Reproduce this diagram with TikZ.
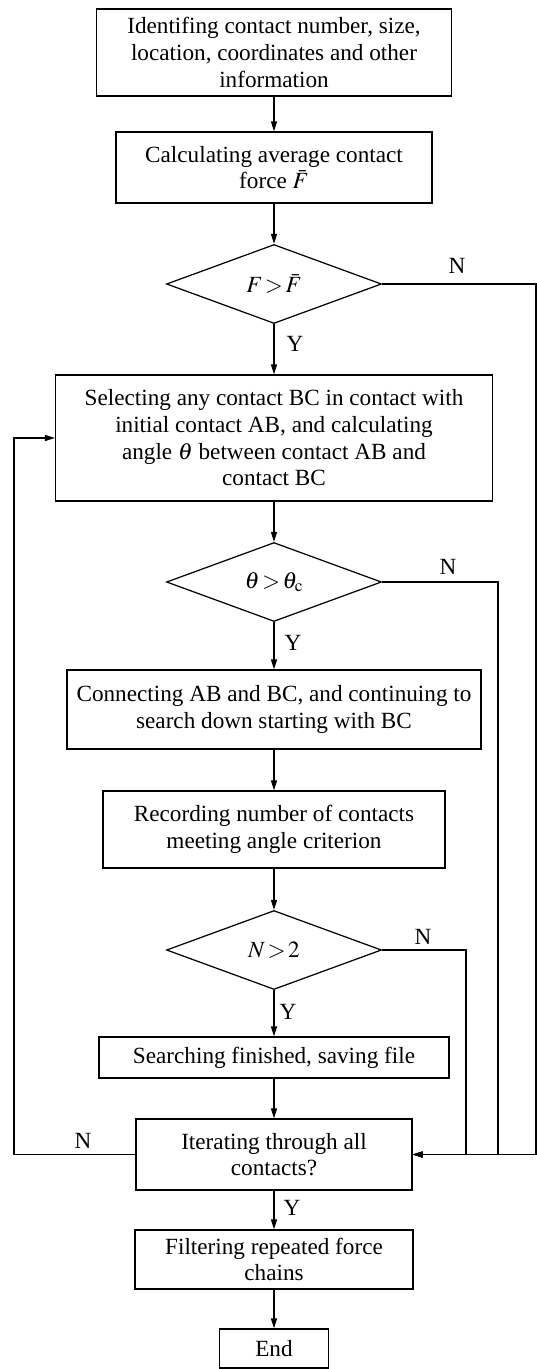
\documentclass[tikz,border=0pt]{standalone}
\usepackage{mathptmx}
\usepackage{fontspec}
\setmainfont{Liberation Serif}
\usetikzlibrary{shapes.geometric,arrows.meta}

\tikzset{
  txt/.style={font=\fontsize{13.2}{15.2}\selectfont},
  box/.style={txt, draw, line width=0.7pt, align=center, inner sep=0pt},
  decision/.style={txt, draw, line width=0.7pt, diamond, aspect=2.7, inner sep=0pt, minimum width=4.3cm, minimum height=1.58cm},
  line/.style={line width=0.7pt},
  arrow/.style={line width=0.7pt, -{Triangle[length=2mm,width=1.2mm]}},
  lab/.style={txt, inner sep=0pt}
}

\begin{document}
\begin{tikzpicture}[x=0.02cm, y=-0.02cm]
    \useasboundingbox (0, 0) rectangle (537, 1369);

    \node[box, minimum width=7.1cm, minimum height=1.74cm] (info) at (274, 52.5) {Identifing contact number, size,\\ location, coordinates and other\\ information};
    \node[box, minimum width=6.32cm, minimum height=1.42cm] (avg) at (274, 167.5) {Calculating average contact\\ force $\bar{F}$};
    \node[decision] (fcheck) at (274, 284) {$F\!>\!\bar{F}$};
    \node[box, minimum width=8.74cm, minimum height=2.52cm] (select) at (274, 438) {Selecting any contact BC in contact with\\ initial contact AB, and calculating\\ angle $\theta$ between contact AB and\\ contact BC};
    \node[decision] (acheck) at (274, 582) {$\theta\!>\!\theta_{\mathrm{c}}$};
    \node[box, minimum width=8.28cm, minimum height=1.58cm] (connect) at (274, 709.5) {Connecting AB and BC, and continuing to\\ search down starting with BC};
    \node[box, minimum width=6.84cm, minimum height=1.54cm] (record) at (274, 829.5) {Recording number of contacts\\ meeting angle criterion};
    \node[decision] (ncheck) at (274, 950) {$N\!>\!2$};
    \node[box, minimum width=7cm, minimum height=0.82cm] (save) at (274, 1057.5) {Searching finished, saving file};
    \node[box, minimum width=5.52cm, minimum height=1.42cm] (iter) at (274, 1154.5) {Iterating through all\\ contacts?};
    \node[box, minimum width=5.56cm, minimum height=1.18cm] (filter) at (274, 1259.5) {Filtering repeated force\\ chains};
    \node[box, minimum width=2.18cm, minimum height=0.78cm] (end) at (274, 1348.5) {End};

    % main column
    \draw[arrow] (info) -- (avg);
    \draw[arrow] (avg) -- (fcheck);
    \draw[arrow] (fcheck) -- (select);
    \draw[arrow] (select) -- (acheck);
    \draw[arrow] (acheck) -- (connect);
    \draw[arrow] (connect) -- (record);
    \draw[arrow] (record) -- (ncheck);
    \draw[arrow] (ncheck) -- (save);
    \draw[arrow] (save) -- (iter);
    \draw[arrow] (iter) -- (filter);
    \draw[arrow] (filter) -- (end);

    % N branches on the right
    \coordinate (fright) at (536, 284);
    \coordinate (aright) at (498, 582);
    \coordinate (nright) at (466, 950);
    \draw[arrow] (fcheck.east) -- (fright) |- (iter.east);
    \draw[arrow] (acheck.east) -- (aright) |- (iter.east);
    \draw[arrow] (ncheck.east) -- (nright) |- (iter.east);

    % loop back on the left
    \coordinate (back) at (14, 438);
    \draw[arrow] (iter.west) -| (back) -- (select.west);

    \node[lab] (fno) at (457, 266) {N};
    \node[lab] (fyes) at (295, 344) {Y};
    \node[lab] (ano) at (448, 567) {N};
    \node[lab] (ayes) at (293, 643) {Y};
    \node[lab] (nno) at (423, 937) {N};
    \node[lab] (nyes) at (288, 1012) {Y};
    \node[lab] (ino) at (83, 1141) {N};
    \node[lab] (iyes) at (292, 1208) {Y};
\end{tikzpicture}
\end{document}
